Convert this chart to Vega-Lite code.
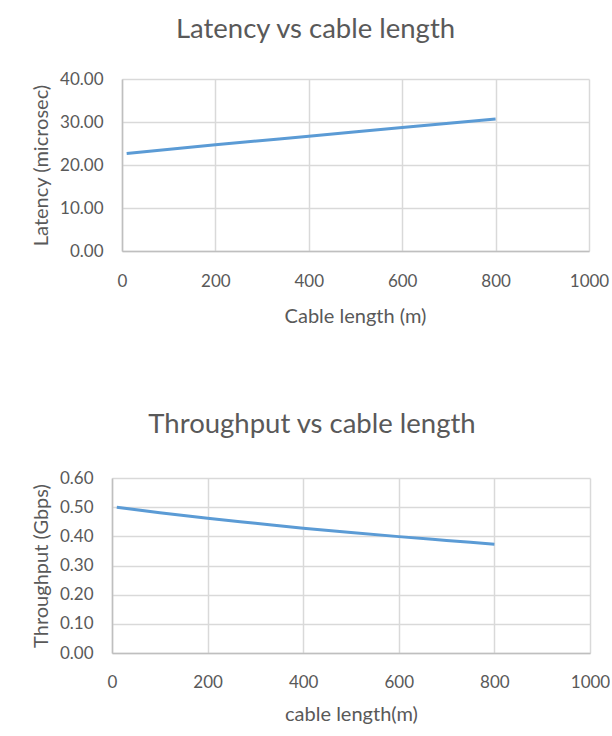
{
  "$schema": "https://vega.github.io/schema/vega-lite/v6.json",
  "padding": {"left": 31, "top": 15, "right": 0, "bottom": 0},
  "background": "white",
  "spacing": 84,
  "columns": 1,
  "align": "none",
  "config": {
    "font": "Lato",
    "view": {"stroke": null},
    "title": {"font": "Lato", "fontSize": 27.5, "fontWeight": "normal", "color": "#595959", "anchor": "middle"},
    "axis": {
      "labelFont": "Lato", "labelFontSize": 17, "labelColor": "#595959",
      "titleFont": "Lato", "titleFontSize": 20, "titleFontWeight": "normal", "titleColor": "#595959",
      "gridColor": "#d9d9d9", "gridWidth": 1.5, "domainColor": "#bfbfbf", "domainWidth": 1.5, "ticks": false
    }
  },
  "datasets": {
    "latency": [
      {"length": 10, "latency": 22.7},
      {"length": 200, "latency": 24.7},
      {"length": 400, "latency": 26.7},
      {"length": 600, "latency": 28.7},
      {"length": 800, "latency": 30.7}
    ],
    "throughput": [
      {"length": 10, "throughput": 0.500},
      {"length": 100, "throughput": 0.481},
      {"length": 200, "throughput": 0.462},
      {"length": 300, "throughput": 0.445},
      {"length": 400, "throughput": 0.428},
      {"length": 500, "throughput": 0.413},
      {"length": 600, "throughput": 0.399},
      {"length": 700, "throughput": 0.386},
      {"length": 800, "throughput": 0.373}
    ]
  },
  "concat": [
    {
      "width": 477,
      "height": 172,
      "title": {"text": "Latency vs cable length", "offset": 27, "dx": -35},
      "data": {"name": "latency"},
      "mark": {"type": "line", "color": "#5b9bd5", "strokeWidth": 3, "interpolate": "monotone"},
      "encoding": {
        "x": {"field": "length", "type": "quantitative", "scale": {"domain": [0, 1000], "nice": false, "range": [10, 477]},
              "axis": {"title": "Cable length (m)", "values": [0, 200, 400, 600, 800, 1000], "format": "d", "labelPadding": 22, "titlePadding": 17, "labelFlush": false, "titleX": 243}},
        "y": {"field": "latency", "type": "quantitative", "scale": {"domain": [0, 40], "nice": false},
              "axis": {"title": "Latency (microsec)", "values": [0, 10, 20, 30, 40], "format": ".2f", "labelPadding": 19, "titlePadding": 8, "offset": -10}}
      }
    },
    {
      "width": 478,
      "height": 175,
      "title": {"text": "Throughput vs cable length", "offset": 31, "dx": -39},
      "data": {"name": "throughput"},
      "mark": {"type": "line", "color": "#5b9bd5", "strokeWidth": 3, "interpolate": "monotone"},
      "encoding": {
        "x": {"field": "length", "type": "quantitative", "scale": {"domain": [0, 1000], "nice": false},
              "axis": {"title": "cable length(m)", "values": [0, 200, 400, 600, 800, 1000], "format": "d", "labelPadding": 21, "titlePadding": 14, "labelFlush": false}},
        "y": {"field": "throughput", "type": "quantitative", "scale": {"domain": [0, 0.6], "nice": false},
              "axis": {"title": "Throughput (Gbps)", "values": [0, 0.1, 0.2, 0.3, 0.4, 0.5, 0.6], "format": ".2f", "labelPadding": 19, "titlePadding": 8}}
      }
    }
  ]
}
